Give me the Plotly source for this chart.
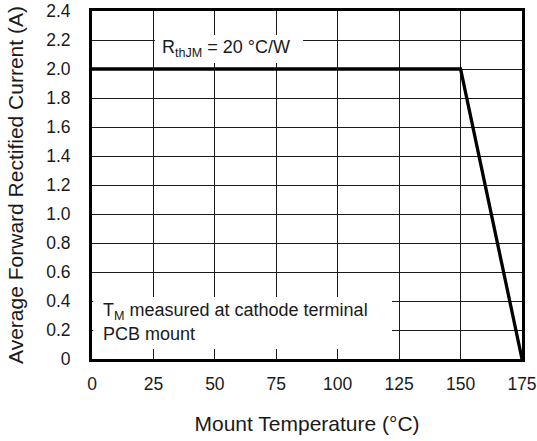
import plotly.graph_objects as go

temps = [0, 150, 175]
current = [2.0, 2.0, 0.0]
x_ticks = [0, 25, 50, 75, 100, 125, 150, 175]
y_ticks = [0, 0.2, 0.4, 0.6, 0.8, 1.0, 1.2, 1.4, 1.6, 1.8, 2.0, 2.2, 2.4]
y_tick_text = ["0", "0.2", "0.4", "0.6", "0.8", "1.0", "1.2", "1.4", "1.6", "1.8", "2.0", "2.2", "2.4"]

FONT = "Liberation Sans, Arial, Helvetica, sans-serif"
TXT = "#1a1a1a"

fig = go.Figure()
fig.add_trace(go.Scatter(x=temps, y=current, mode="lines",
                         line=dict(color="black", width=3.3), showlegend=False,
                         hoverinfo="skip", cliponaxis=False))

# white label boxes
fig.add_shape(type="rect", xref="x", yref="y", x0=25.6, x1=85.9, y0=2.041, y1=2.234,
              fillcolor="white", line=dict(width=0), layer="above")
fig.add_shape(type="rect", xref="x", yref="y", x0=0.5, x1=122.1, y0=0.069, y1=0.428,
              fillcolor="white", line=dict(width=0), layer="above")

fig.add_annotation(x=28.3, y=2.138, xref="x", yref="y", xanchor="left", yanchor="middle",
                   text="R<sub>thJM</sub> = 20 °C/W", showarrow=False,
                   borderpad=0, borderwidth=0,
                   font=dict(family=FONT, size=18, color=TXT))
fig.add_annotation(x=4.5, y=0.33, xref="x", yref="y", xanchor="left", yanchor="middle",
                   text="T<sub>M</sub> measured at cathode terminal", showarrow=False,
                   borderpad=0, borderwidth=0,
                   font=dict(family=FONT, size=18, color=TXT))
fig.add_annotation(x=4.5, y=0.175, xref="x", yref="y", xanchor="left", yanchor="middle",
                   text="PCB mount", showarrow=False,
                   borderpad=0, borderwidth=0,
                   font=dict(family=FONT, size=18, color=TXT))

fig.update_layout(
    width=537, height=441,
    margin=dict(l=92, r=15, t=11, b=82, autoexpand=False),
    paper_bgcolor="white", plot_bgcolor="white",
    font=dict(family=FONT, size=18, color=TXT),
)
fig.update_xaxes(range=[0, 175], tickvals=x_ticks, ticktext=[str(v) for v in x_ticks],
                 showgrid=True, gridcolor="#1a1a1a", gridwidth=1,
                 showline=True, linecolor="black", linewidth=3, mirror=True,
                 ticks="", ticklabelstandoff=7, zeroline=False, automargin=False,
                 title=dict(text="Mount Temperature (°C)", font=dict(size=21), standoff=24),
                 tickfont=dict(size=17.5))
fig.update_yaxes(range=[0, 2.4], tickvals=y_ticks, ticktext=y_tick_text,
                 showgrid=True, gridcolor="#1a1a1a", gridwidth=1,
                 showline=True, linecolor="black", linewidth=3, mirror=True,
                 ticks="", ticklabelstandoff=15, zeroline=False, automargin=False,
                 title=dict(text="Average Forward Rectified Current (A)", font=dict(size=21), standoff=17),
                 tickfont=dict(size=17.5))

fig.write_html("out.html", config={"displayModeBar": False},
               post_script="document.body.style.margin='0';document.body.style.overflow='hidden';")
